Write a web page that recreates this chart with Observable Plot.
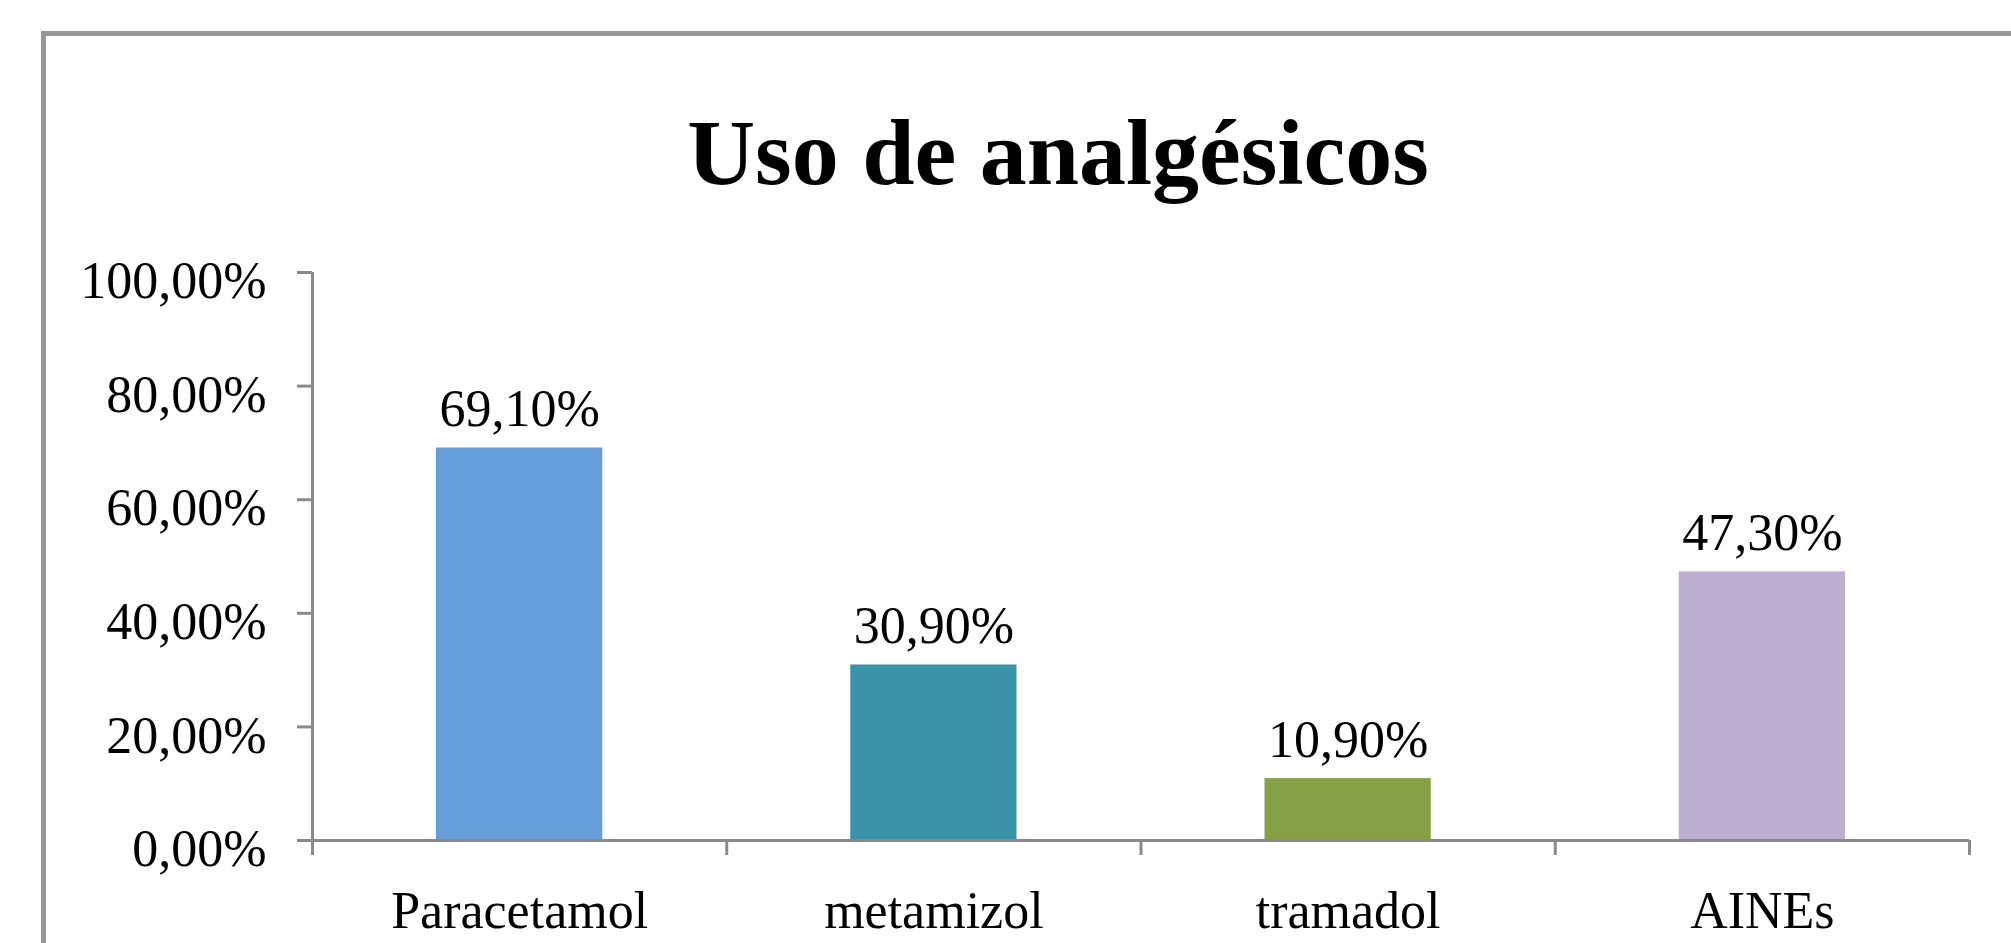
<!DOCTYPE html>
<html>
<head>
<meta charset="utf-8">
<script src="https://cdn.jsdelivr.net/npm/d3@7"></script>
<script src="https://cdn.jsdelivr.net/npm/@observablehq/plot@0.6"></script>
<style>
  html, body { margin: 0; padding: 0; background: #fff; }
  #wrap { position: relative; width: 2011px; height: 943px; overflow: hidden; background: #fff; }
  #frame { position: absolute; left: 41px; top: 31px; width: 3000px; height: 2000px;
           border-left: 5px solid #979797; border-top: 5px solid #979797; box-sizing: border-box;
           pointer-events: none; z-index: 2; }
  #title { position: relative; height: 200px; }
  #title span { position: absolute; left: 0; width: 2116px; top: 105px; text-align: center;
                font-family: "Liberation Serif", serif; font-weight: bold; font-size: 94px;
                line-height: 94px; color: #000; white-space: nowrap; }
  #chart svg { display: block; }
</style>
</head>
<body>
<div id="wrap">
  <div id="title"><span>Uso de analgésicos</span></div>
  <div id="chart"></div>
  <div id="frame"></div>
</div>
<script>
const categories = ["Paracetamol", "metamizol", "tramadol", "AINEs"];
const values = [0.691, 0.309, 0.109, 0.473];
const valueLabels = ["69,10%", "30,90%", "10,90%", "47,30%"];
const colors = ["#659ed9", "#3a93a8", "#87a046", "#bcaed0"];
const yTicks = [0, 0.2, 0.4, 0.6, 0.8, 1.0];

const axisColor = "#8a8a8a";
const data = categories.map((c, i) => ({i, category: c, value: values[i], label: valueLabels[i], color: colors[i]}));
const fmt = d => (d * 100).toFixed(2).replace(".", ",") + "%";
const font = '"Liberation Serif", serif';

const chart = Plot.plot({
  width: 2011,
  height: 743,
  marginTop: 72,
  marginBottom: 103,
  marginLeft: 312,
  marginRight: 42,
  style: {fontFamily: font, fontSize: "52px", color: "#000", background: "transparent", overflow: "visible"},
  x: {domain: [0, categories.length]},
  y: {domain: [0, 1]},
  marks: [
    Plot.rectY(data, {x1: "i", x2: d => d.i + 1, y: "value", fill: "color", insetLeft: 124, insetRight: 124}),
    Plot.text(data, {x: d => d.i + 0.5, y: "value", text: "label", lineAnchor: "bottom", dy: -22,
                     fontSize: 52, fontFamily: font, fill: "#000"}),
    Plot.ruleY([0], {stroke: axisColor, strokeWidth: 3}),
    Plot.ruleX([0], {y1: 0, y2: 1, stroke: axisColor, strokeWidth: 3}),
    Plot.axisY({ticks: yTicks, tickSize: 15, tickFormat: () => "", stroke: axisColor, strokeWidth: 3, label: null}),
    Plot.axisY({ticks: yTicks, tickSize: 0, tickPadding: 46, tickFormat: fmt, dy: 9, label: null,
                fontSize: 52, fill: "#000"}),
    Plot.axisX({ticks: d3.range(categories.length + 1), tickSize: 15, tickFormat: () => "",
                stroke: axisColor, strokeWidth: 3, label: null}),
    Plot.axisX({ticks: categories.map((c, i) => i + 0.5), tickFormat: t => categories[Math.floor(t)],
                tickSize: 0, tickPadding: 51, label: null, fontSize: 52, fill: "#000"})
  ]
});
document.getElementById("chart").appendChild(chart);
</script>
</body>
</html>
